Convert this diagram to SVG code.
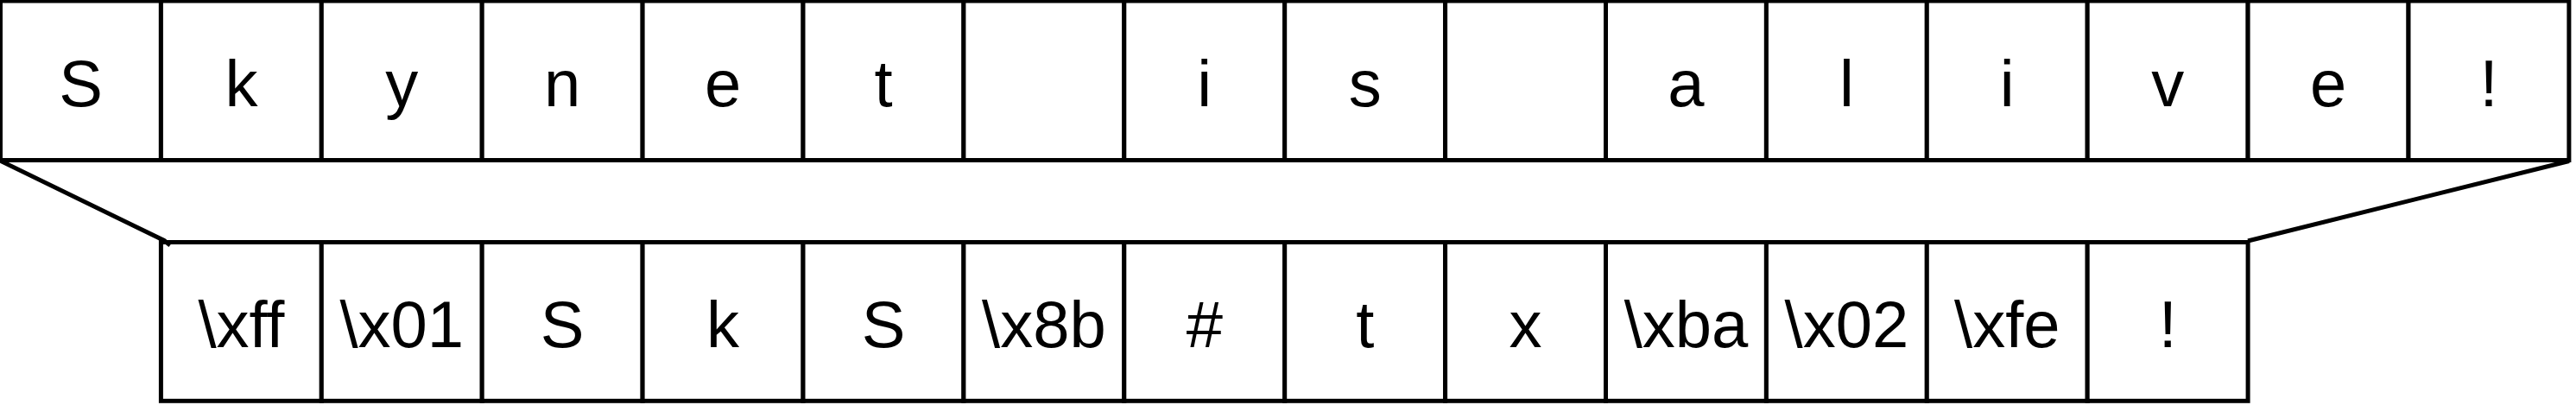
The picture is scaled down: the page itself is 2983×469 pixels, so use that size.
<svg xmlns="http://www.w3.org/2000/svg" width="2983" height="469" viewBox="0 0 2983 469">
<style>
.c{fill:#fff;stroke:#000;stroke-width:5}
.t{font-family:"Liberation Sans",Arial,sans-serif;font-size:76px;fill:#000;text-anchor:middle}
.l{fill:none;stroke:#000;stroke-width:5}
</style>
<rect width="2983" height="469" fill="#fff"/>
<g id="top">
<g id="t0"><rect class="c" x="0.5" y="1" width="185.9" height="184.5"/><text class="t" x="93.5" y="123">S</text></g>
<g id="t1"><rect class="c" x="186.4" y="1" width="185.9" height="184.5"/><text class="t" x="279.4" y="123">k</text></g>
<g id="t2"><rect class="c" x="372.3" y="1" width="185.9" height="184.5"/><text class="t" x="465.3" y="123">y</text></g>
<g id="t3"><rect class="c" x="558.2" y="1" width="185.9" height="184.5"/><text class="t" x="651.2" y="123">n</text></g>
<g id="t4"><rect class="c" x="744.1" y="1" width="185.9" height="184.5"/><text class="t" x="837.1" y="123">e</text></g>
<g id="t5"><rect class="c" x="930" y="1" width="185.9" height="184.5"/><text class="t" x="1023" y="123">t</text></g>
<g id="t6"><rect class="c" x="1115.9" y="1" width="185.9" height="184.5"/></g>
<g id="t7"><rect class="c" x="1301.8" y="1" width="185.9" height="184.5"/><text class="t" x="1394.8" y="123">i</text></g>
<g id="t8"><rect class="c" x="1487.7" y="1" width="185.9" height="184.5"/><text class="t" x="1580.7" y="123">s</text></g>
<g id="t9"><rect class="c" x="1673.6" y="1" width="185.9" height="184.5"/></g>
<g id="t10"><rect class="c" x="1859.5" y="1" width="185.9" height="184.5"/><text class="t" x="1952.5" y="123">a</text></g>
<g id="t11"><rect class="c" x="2045.4" y="1" width="185.9" height="184.5"/><text class="t" x="2138.4" y="123">l</text></g>
<g id="t12"><rect class="c" x="2231.3" y="1" width="185.9" height="184.5"/><text class="t" x="2324.3" y="123">i</text></g>
<g id="t13"><rect class="c" x="2417.2" y="1" width="185.9" height="184.5"/><text class="t" x="2510.2" y="123">v</text></g>
<g id="t14"><rect class="c" x="2603.1" y="1" width="185.9" height="184.5"/><text class="t" x="2696.1" y="123">e</text></g>
<g id="t15"><rect class="c" x="2789" y="1" width="185.9" height="184.5"/><text class="t" x="2882" y="123">!</text></g>
</g>
<g id="bottom">
<g id="b0"><rect class="c" x="186.4" y="280.5" width="185.9" height="183.8"/><text class="t" x="279.4" y="401.7">\xff</text></g>
<g id="b1"><rect class="c" x="372.3" y="280.5" width="185.9" height="183.8"/><text class="t" x="465.3" y="401.7">\x01</text></g>
<g id="b2"><rect class="c" x="558.2" y="280.5" width="185.9" height="183.8"/><text class="t" x="651.2" y="401.7">S</text></g>
<g id="b3"><rect class="c" x="744.1" y="280.5" width="185.9" height="183.8"/><text class="t" x="837.1" y="401.7">k</text></g>
<g id="b4"><rect class="c" x="930" y="280.5" width="185.9" height="183.8"/><text class="t" x="1023" y="401.7">S</text></g>
<g id="b5"><rect class="c" x="1115.9" y="280.5" width="185.9" height="183.8"/><text class="t" x="1208.9" y="401.7">\x8b</text></g>
<g id="b6"><rect class="c" x="1301.8" y="280.5" width="185.9" height="183.8"/><text class="t" x="1394.8" y="401.7">#</text></g>
<g id="b7"><rect class="c" x="1487.7" y="280.5" width="185.9" height="183.8"/><text class="t" x="1580.7" y="401.7">t</text></g>
<g id="b8"><rect class="c" x="1673.6" y="280.5" width="185.9" height="183.8"/><text class="t" x="1766.6" y="401.7">x</text></g>
<g id="b9"><rect class="c" x="1859.5" y="280.5" width="185.9" height="183.8"/><text class="t" x="1952.5" y="401.7">\xba</text></g>
<g id="b10"><rect class="c" x="2045.4" y="280.5" width="185.9" height="183.8"/><text class="t" x="2138.4" y="401.7">\x02</text></g>
<g id="b11"><rect class="c" x="2231.3" y="280.5" width="185.9" height="183.8"/><text class="t" x="2324.3" y="401.7">\xfe</text></g>
<g id="b12"><rect class="c" x="2417.2" y="280.5" width="185.9" height="183.8"/><text class="t" x="2510.2" y="401.7">!</text></g>
</g>
<g id="connectors">
<path class="l" d="M1 186.5 L190 278.5 L197 284"/>
<path class="l" d="M2975 186.5 L2603.1 279"/>
</g>
</svg>
